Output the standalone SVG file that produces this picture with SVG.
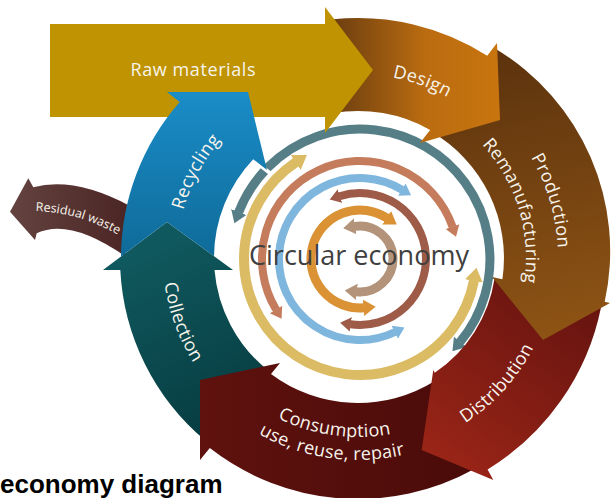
<svg xmlns="http://www.w3.org/2000/svg" width="611" height="498" viewBox="0 0 611 498">
<style>
.lbl{font-family:"Open Sans","Liberation Sans",sans-serif;font-size:18px;fill:#f7f4ec;letter-spacing:0.3px}
.ring{fill:none}
</style>
<defs>
<linearGradient id="gDes" gradientUnits="userSpaceOnUse" x1="335" y1="0" x2="500" y2="0"><stop offset="0" stop-color="#6d3f10"/><stop offset="0.55" stop-color="#bb6c10"/><stop offset="1" stop-color="#c8750f"/></linearGradient>
<linearGradient id="gPro" gradientUnits="userSpaceOnUse" x1="500" y1="60" x2="560" y2="330"><stop offset="0" stop-color="#5e340e"/><stop offset="1" stop-color="#8d5314"/></linearGradient>
<linearGradient id="gDis" gradientUnits="userSpaceOnUse" x1="560" y1="300" x2="440" y2="470"><stop offset="0" stop-color="#6a1510"/><stop offset="1" stop-color="#9b2517"/></linearGradient>
<linearGradient id="gCon" gradientUnits="userSpaceOnUse" x1="470" y1="420" x2="200" y2="420"><stop offset="0" stop-color="#4a0b09"/><stop offset="1" stop-color="#5f120e"/></linearGradient>
<linearGradient id="gCol" gradientUnits="userSpaceOnUse" x1="150" y1="250" x2="230" y2="420"><stop offset="0" stop-color="#0f585d"/><stop offset="1" stop-color="#073d42"/></linearGradient>
<linearGradient id="gRec" gradientUnits="userSpaceOnUse" x1="0" y1="95" x2="0" y2="255"><stop offset="0" stop-color="#1a8cc7"/><stop offset="1" stop-color="#0f6b99"/></linearGradient>
<linearGradient id="gRes" gradientUnits="userSpaceOnUse" x1="10" y1="0" x2="125" y2="0"><stop offset="0" stop-color="#634340"/><stop offset="1" stop-color="#4c2624"/></linearGradient>
<marker id="mGray" viewBox="0 -1 1.4 2" refX="0.05" refY="0" markerWidth="1.4" markerHeight="2" orient="auto-start-reverse" markerUnits="strokeWidth"><path d="M0,-0.9 L1.35,0 L0,0.9 Z" fill="#557e86"/></marker>
<marker id="mGold" viewBox="0 -1 1.4 2" refX="0.05" refY="0" markerWidth="1.4" markerHeight="2" orient="auto-start-reverse" markerUnits="strokeWidth"><path d="M0,-0.9 L1.35,0 L0,0.9 Z" fill="#dbbb64"/></marker>
<marker id="mSal" viewBox="0 -1 1.4 2" refX="0.05" refY="0" markerWidth="1.4" markerHeight="2" orient="auto-start-reverse" markerUnits="strokeWidth"><path d="M0,-0.9 L1.35,0 L0,0.9 Z" fill="#c47c5c"/></marker>
<marker id="mBlu" viewBox="0 -1 1.4 2" refX="0.05" refY="0" markerWidth="1.4" markerHeight="2" orient="auto-start-reverse" markerUnits="strokeWidth"><path d="M0,-0.9 L1.35,0 L0,0.9 Z" fill="#7fb6dd"/></marker>
<marker id="mBro" viewBox="0 -1 1.4 2" refX="0.05" refY="0" markerWidth="1.4" markerHeight="2" orient="auto-start-reverse" markerUnits="strokeWidth"><path d="M0,-0.9 L1.35,0 L0,0.9 Z" fill="#9d5b48"/></marker>
<marker id="mOra" viewBox="0 -1 1.4 2" refX="0.05" refY="0" markerWidth="1.4" markerHeight="2" orient="auto-start-reverse" markerUnits="strokeWidth"><path d="M0,-0.9 L1.35,0 L0,0.9 Z" fill="#da9234"/></marker>
<marker id="mTan" viewBox="0 -1 1.4 2" refX="0.05" refY="0" markerWidth="1.4" markerHeight="2" orient="auto-start-reverse" markerUnits="strokeWidth"><path d="M0,-0.9 L1.35,0 L0,0.9 Z" fill="#b39379"/></marker>
<path id="pDes" d="M295.1,85.1 A184,184 0 0 1 517.3,166"/>
<path id="pPro" d="M468.4,91.2 A200,200 0 0 1 541.4,337.8"/>
<path id="pRem" d="M449.5,117.1 A168,168 0 0 1 512.6,323.6"/>
<path id="pDis" d="M385.4,453.1 A197,197 0 0 0 554.9,264.9"/>
<path id="pCon" d="M225,377.8 A179,179 0 0 0 452.9,409.8"/>
<path id="pUse" d="M207.9,393.2 A202,202 0 0 0 465,429.3"/>
<path id="pCol" d="M174.8,191.3 A195,195 0 0 0 260.5,426.9"/>
<path id="pRec" d="M181,295.6 A181,181 0 0 1 290.2,90.2"/>
<path id="pRes" d="M33,211 Q80,212 120,236"/>
</defs>
<rect width="611" height="498" fill="#ffffff"/>

<g id="connectors">
<path class="ring" d="M238.6,212.4 A130,130 0 1 1 459.9,342.2" stroke="#557e86" stroke-width="9" marker-start="url(#mGray)" marker-end="url(#mGray)"/>
<line x1="270.5" y1="173.5" x2="249" y2="156.5" stroke="#ffffff" stroke-width="4"/>
<path class="ring" d="M474,280.5 A116,116 0 1 1 296.1,162.2" stroke="#dbbb64" stroke-width="10" marker-start="url(#mGold)" marker-end="url(#mGold)"/>
<path class="ring" d="M276.2,309.8 A98,98 0 1 1 452.6,226.9" stroke="#c47c5c" stroke-width="8" marker-start="url(#mSal)" marker-end="url(#mSal)"/>
<path class="ring" d="M395.1,332 A81,81 0 1 1 402.2,189.9" stroke="#7fb6dd" stroke-width="8" marker-start="url(#mBlu)" marker-end="url(#mBlu)"/>
<path class="ring" d="M339.6,196.2 A66,66 0 1 1 350.4,324.3" stroke="#9d5b48" stroke-width="8" marker-start="url(#mBro)" marker-end="url(#mBro)"/>
<path class="ring" d="M364,307.8 A49,49 0 1 1 387,218.1" stroke="#da9234" stroke-width="9" marker-start="url(#mOra)" marker-end="url(#mOra)"/>
<path class="ring" d="M354.8,226.4 A33,33 0 1 1 356.4,291.8" stroke="#b39379" stroke-width="9" marker-start="url(#mTan)" marker-end="url(#mTan)"/>
</g>

<g id="residual-waste">
<path d="M28.3,178.3 L10,211.7 L35,240 L36.7,233.3 Q69.2,217.4 125,256 L130,206 Q74.4,176.4 33.3,187.3 Z" fill="url(#gRes)"/>
<text class="lbl" style="font-size:12.5px;letter-spacing:0"><textPath href="#pRes" startOffset="50%" text-anchor="middle">Residual waste</textPath></text>
</g>

<g id="collection">
<path d="M205,440.3 A238,238 0 0 1 120.3,270 L103,270 L167,222 L233,270 L214.5,270 A144,144 0 0 0 267.5,370 Z" fill="url(#gCol)"/>
<text class="lbl"><textPath href="#pCol" startOffset="50%" text-anchor="middle">Collection</textPath></text>
</g>

<g id="consumption">
<path d="M474.8,468.8 A241,241 0 0 1 209.8,448.1 L200,460 L200,380 L280,363 L271,374 A145,145 0 0 0 434.8,381 Z" fill="url(#gCon)"/>
<text class="lbl"><textPath href="#pCon" startOffset="50%" text-anchor="middle">Consumption</textPath></text>
<text class="lbl"><textPath href="#pUse" startOffset="50%" text-anchor="middle">use, reuse, repair</textPath></text>
</g>

<g id="distribution">
<path d="M601,307.4 A248,248 0 0 1 487.6,469.5 L493.3,480 L421.7,450 L433.3,370 L434.8,372.7 A138,138 0 0 0 494.5,278.8 Z" fill="url(#gDis)"/>
<text class="lbl"><textPath href="#pDis" startOffset="50%" text-anchor="middle">Distribution</textPath></text>
</g>

<g id="production">
<path d="M495,48.5 A236,236 0 0 1 604.7,301.8 L610,303 L543,340 L492,277 L502.4,279.3 A146,146 0 0 0 431,131.6 Z" fill="url(#gPro)"/>
<text class="lbl"><textPath href="#pPro" startOffset="50%" text-anchor="middle">Production</textPath></text>
<text class="lbl"><textPath href="#pRem" startOffset="50%" text-anchor="middle">Remanufacturing</textPath></text>
</g>

<g id="design">
<path d="M333,19.3 A240,240 0 0 1 487.2,55.7 L497,43 L500,120 L420,143 L430.1,129.9 A147,147 0 0 0 333,113.1 Z" fill="url(#gDes)"/>
<text class="lbl"><textPath href="#pDes" startOffset="50%" text-anchor="middle">Design</textPath></text>
</g>

<g id="raw-materials">
<path d="M50,24 H325 V7 L373,70 L325,133 V117 H50 Z" fill="#bf9302"/>
<text class="lbl" x="193.3" y="76" text-anchor="middle" style="letter-spacing:0.6px">Raw materials</text>
</g>

<g id="recycling">
<path d="M121,256.5 A237,237 0 0 1 179.7,101.9 L167,92 L248,92 L267,170 L253.2,159.2 A144,144 0 0 0 214,256.2 L167,222 Z" fill="url(#gRec)"/>
<text class="lbl"><textPath href="#pRec" startOffset="50%" text-anchor="middle">Recycling</textPath></text>
</g>

<g id="circular-economy">
<text x="359" y="265" text-anchor="middle" font-family="'Open Sans','Liberation Sans',sans-serif" font-size="27" fill="#3f3f3f">Circular economy</text>
</g>

<text x="0" y="493" font-family="'Liberation Sans',Arial,sans-serif" font-weight="bold" font-size="26" fill="#000000">economy diagram</text>
</svg>
